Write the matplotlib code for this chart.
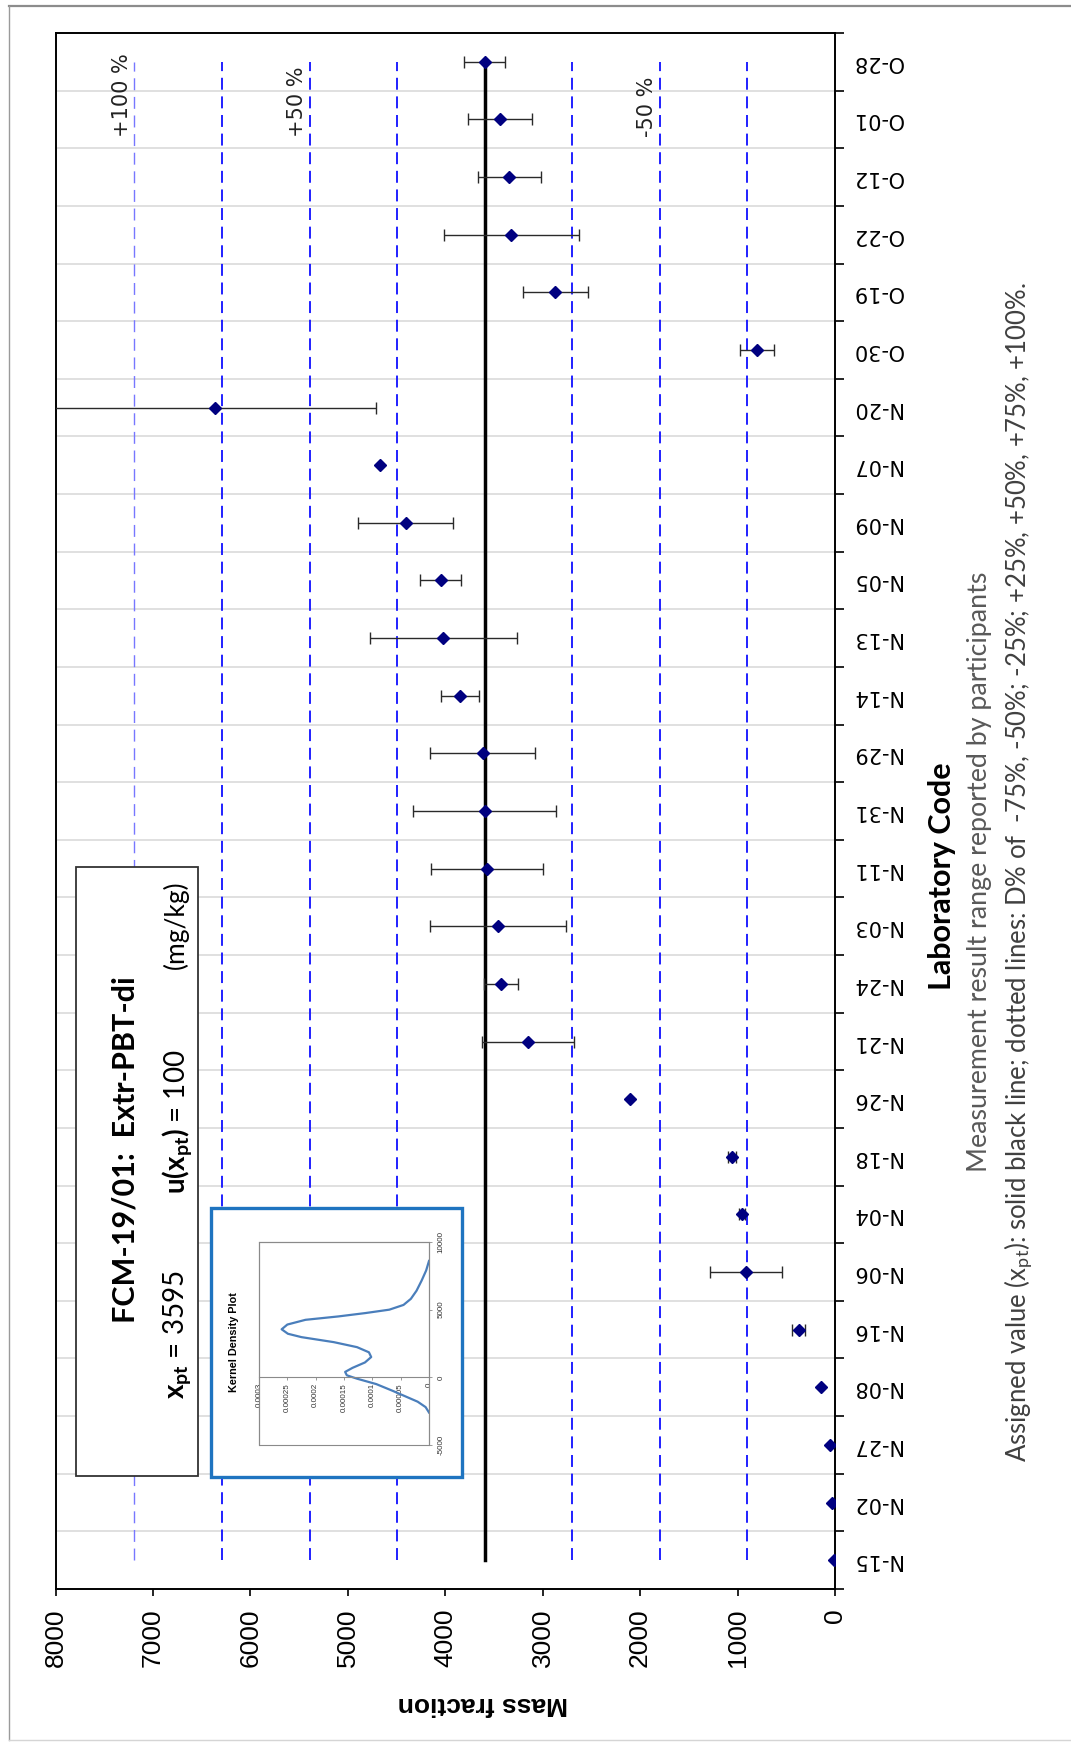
import matplotlib
matplotlib.use('Agg')
import matplotlib.pyplot as plt
import numpy as np
from matplotlib import font_manager
from matplotlib.patches import Rectangle
from matplotlib.lines import Line2D

# ---------------- data ----------------
labs = ['N-15', 'N-02', 'N-27', 'N-08', 'N-16', 'N-06', 'N-04', 'N-18', 'N-26',
        'N-21', 'N-24', 'N-03', 'N-11', 'N-31', 'N-29', 'N-14', 'N-13', 'N-05',
        'N-09', 'N-07', 'N-20', 'O-30', 'O-19', 'O-22', 'O-12', 'O-01', 'O-28']
values = [10, 30, 50, 140, 373, 913, 958, 1053, 2107,
          3153, 3430, 3460, 3569, 3597, 3617, 3853, 4021, 4045,
          4407, 4670, 6368, 799, 2873, 3321, 3342, 3440, 3595]
uncert = [0, 0, 0, 0, 68, 368, 30, 42, 0,
          473, 175, 698, 575, 732, 537, 195, 755, 210,
          490, 0, 1653, 175, 333, 690, 325, 330, 210]
xpt = 3595
u_xpt = 100
pct_levels = [-75, -50, -25, 25, 50, 75, 100]
pct_labels = {100: '+100 %', 50: '+50 %', -50: '-50 %'}
xtick_vals = [0, 1000, 2000, 3000, 4000, 5000, 6000, 7000, 8000]

# kernel density curve
kde_value = [-2600, -2200, -1800, -1400, -1000, -500, -100, 150, 400, 700,
             1100, 1500, 1850, 2230, 2600, 2970, 3220, 3550, 3900, 4250,
             4500, 4750, 5000, 5350, 5800, 6400, 7150, 7900, 8600]
kde_density = [0, 0.000006, 0.000020, 0.000042, 0.000064, 0.000093, 0.000127,
               0.000145, 0.000148, 0.000135, 0.000113, 0.000102, 0.000106,
               0.000127, 0.000168, 0.000225, 0.000249, 0.000260, 0.000250,
               0.000218, 0.000160, 0.000112, 0.000070, 0.000045, 0.000032,
               0.000022, 0.000013, 0.000005, 0]
kde_dens_ticks = [0, 0.00005, 0.0001, 0.00015, 0.0002, 0.00025, 0.0003]
kde_dens_labels = ['0', '0.00005', '0.0001', '0.00015', '0.0002', '0.00025', '0.0003']
kde_val_ticks = [-5000, 0, 5000, 10000]

# ---------------- fonts ----------------
names = {f.name for f in font_manager.fontManager.ttflist}
def pick(*c):
    for n in c:
        if n in names:
            return n
    return 'DejaVu Sans'
NARROW = pick('Liberation Sans Narrow', 'Liberation Sans')
ARIAL = pick('Liberation Sans')
CAL = pick('Lato', 'Open Sans')

plt.rcParams['mathtext.fontset'] = 'custom'
plt.rcParams['mathtext.rm'] = CAL
plt.rcParams['mathtext.it'] = CAL + ':italic'
plt.rcParams['mathtext.bf'] = CAL + ':bold'

W, H = 1071, 1742
fig = plt.figure(figsize=(W / 100, H / 100), dpi=100)
fig.patch.set_facecolor('white')

def fx(x):
    return x / W

def fy(y):
    return 1 - y / H

# ---------------- main axes ----------------
ax = fig.add_axes([fx(55.5), fy(1589), fx(835) - fx(55.5), (1589 - 33) / H])
idx = np.arange(len(labs))
vals = np.array(values, dtype=float)
unc = np.array(uncert, dtype=float)

ax.set_xlim(8000, 0)
ax.set_ylim(-0.5, len(labs) - 0.5)

# grid at category boundaries
ax.set_yticks(np.arange(-0.5, len(labs)), minor=True)
ax.grid(which='minor', axis='y', color='#e0e0e0', lw=1.4, zorder=0)
ax.set_axisbelow(True)

# dashed deviation lines
for p in pct_levels:
    v = xpt * (1 + p / 100)
    if p == 100:
        lw = 1.0
        ax.plot([v, v], [idx[0], idx[-1]], color='#7777ff', lw=lw,
                linestyle=(0, (8.6 / lw, 4.8 / lw)), zorder=1)
    else:
        lw = 1.35
        ax.plot([v, v], [idx[0], idx[-1]], color='#1818ff', lw=lw,
                linestyle=(0, (8.6 / lw, 4.8 / lw)), zorder=1)
    if p in pct_labels:
        ax.text(v + 30, 24.7, pct_labels[p], rotation=90, ha='right', va='bottom',
                fontsize=15, family='DejaVu Sans', color='#222222', zorder=2)

# assigned value line
ax.plot([xpt, xpt], [idx[0], idx[-1]], color='black', lw=2.5, zorder=2)

# error bars + markers
m = unc > 0
ax.errorbar(vals[m], idx[m], xerr=unc[m], fmt='none', ecolor='#2a2a2a',
            elinewidth=1.0, capsize=4.3, capthick=1.0, zorder=3)
ax.plot(vals, idx, ls='none', marker='D', ms=5.8, color='#000080',
        mec='#000080', zorder=4)

# axes styling
for s in ax.spines.values():
    s.set_linewidth(1.4)
    s.set_color('black')
ax.set_xticks(xtick_vals)
ax.set_xticklabels([str(v) for v in xtick_vals], rotation=90, fontsize=19,
                   family=NARROW)
ax.tick_params(axis='x', direction='out', length=5, width=1.2, pad=9, top=False)

ax.set_yticks(idx)
ax.set_yticklabels(labs, rotation=180, fontsize=15, family='DejaVu Sans', va='center')
ax.yaxis.tick_right()
ax.tick_params(axis='y', which='major', length=0, pad=12, left=False, right=True)
ax.tick_params(axis='y', which='minor', length=6.5, width=1.2, direction='out',
               left=False, right=True)

# ---------------- annotation box ----------------
fig.add_artist(Rectangle((fx(75.5), fy(1476)), fx(198) - fx(75.5), (1476 - 867) / H,
                         transform=fig.transFigure, fc='white', ec='#333333',
                         lw=1.3, zorder=3))
fig.text(fx(125), fy(1150), 'FCM-19/01:  Extr-PBT-di', rotation=90, ha='center',
         va='center', fontsize=22, weight='bold', family=CAL, zorder=4)
fig.text(fx(177), fy(1335), r'$\mathbf{x}_{\mathbf{pt}}$ = 3595', rotation=90,
         ha='center', va='center', fontsize=20, family=CAL, zorder=4)
fig.text(fx(177), fy(1122), r'$\mathbf{u(x}_{\mathbf{pt}}\mathbf{)}$ = %d' % u_xpt,
         rotation=90, ha='center', va='center', fontsize=20, family=CAL, zorder=4)
fig.text(fx(176), fy(925), '(mg/kg)', rotation=90, ha='center', va='center',
         fontsize=19, family=CAL, zorder=4)

# ---------------- inset kernel density ----------------
fig.add_artist(Rectangle((fx(211), fy(1477)), fx(462) - fx(211), (1477 - 1208) / H,
                         transform=fig.transFigure, fc='white', ec='#1f74c0',
                         lw=2.4, zorder=5))
kax = fig.add_axes([fx(259), fy(1445), fx(429) - fx(259), (1445 - 1242) / H])
kax.set_zorder(6)
kax.set_facecolor('none')
kax.plot(kde_density, kde_value, color='#4a7ebb', lw=1.6)
kax.set_xlim(0.0003, 0)
kax.set_ylim(-5000, 10000)
for s in kax.spines.values():
    s.set_color('#8a8a8a')
    s.set_linewidth(0.8)
kax.spines['bottom'].set_position(('data', 0))
kax.add_patch(Rectangle((0, 0), 1, 1, transform=kax.transAxes, fill=False,
                        ec='#8a8a8a', lw=0.8, clip_on=False))
kax.set_xticks(kde_dens_ticks)
kax.set_xticklabels(kde_dens_labels, rotation=90, fontsize=5.8, family=ARIAL,
                    color='#333333')
kax.tick_params(axis='x', direction='out', length=2, width=0.6, color='#8a8a8a', pad=2)
kax.yaxis.tick_right()
kax.set_yticks(kde_val_ticks)
kax.set_yticklabels([str(v) for v in kde_val_ticks], rotation=90, fontsize=5.8,
                    family=ARIAL, color='#333333', va='center')
kax.tick_params(axis='y', direction='out', length=2, width=0.6, color='#8a8a8a', pad=4)
fig.text(fx(234), fy(1342), 'Kernel Density Plot', rotation=90, ha='center',
         va='center', fontsize=7.8, weight='bold', family=ARIAL, zorder=7)

# ---------------- outer labels ----------------
fig.text(fx(483), fy(1704), 'Mass fraction', rotation=180, ha='center', va='center',
         fontsize=19, weight='bold', family=ARIAL)
fig.text(fx(942), fy(876), 'Laboratory Code', rotation=90, ha='center', va='center',
         fontsize=22, weight='bold', family=CAL)
fig.text(fx(980), fy(872), 'Measurement result range reported by participants',
         rotation=90, ha='center', va='center', fontsize=19.3, color='#595959', family=CAL)
fig.text(fx(1019), fy(872),
         r'Assigned value ($\mathrm{x}_{\mathrm{pt}}$): solid black line; dotted lines: D% of  -75%, -50%; -25%; +25%, +50%, +75%, +100%.',
         rotation=90, ha='center', va='center', fontsize=18.5, color='#404040', family=CAL)

# ---------------- outer frame ----------------
fig.add_artist(Line2D([fx(9), 1], [fy(6), fy(6)], color='#8c8c8c', lw=1.6,
                      transform=fig.transFigure))
fig.add_artist(Line2D([fx(9), fx(9)], [fy(6), fy(1740)], color='#9a9a9a', lw=1.0,
                      transform=fig.transFigure))
fig.add_artist(Line2D([fx(9), 1], [fy(1740), fy(1740)], color='#d5d5d5', lw=1.0,
                      transform=fig.transFigure))

fig.savefig('out.png', dpi=100)
